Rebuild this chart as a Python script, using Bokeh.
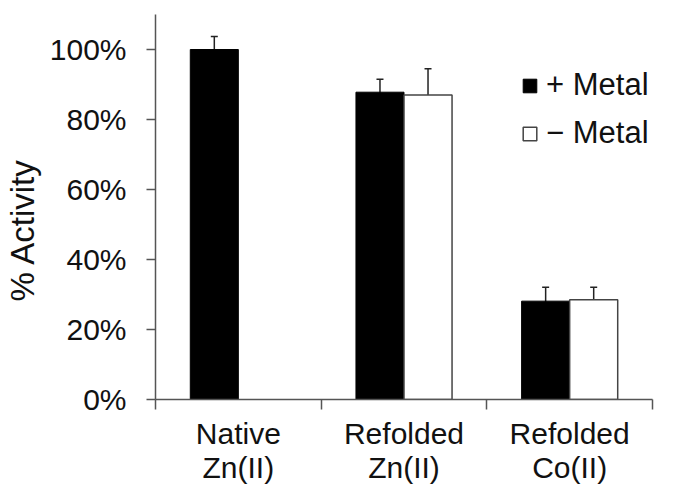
from bokeh.plotting import figure
from bokeh.models import (ColumnDataSource, FactorRange, Whisker, TeeHead, Legend, LegendItem,
                          NumeralTickFormatter, FixedTicker, Range1d, LinearAxis, CategoricalAxis)
from bokeh.transform import dodge
from bokeh.embed import file_html
from bokeh.resources import INLINE

categories = ["Native\nZn(II)", "Refolded\nZn(II)", "Refolded\nCo(II)"]

plus_cats = ["Native\nZn(II)", "Refolded\nZn(II)", "Refolded\nCo(II)"]
plus_vals = [1.00, 0.878, 0.281]
plus_err = [0.037, 0.037, 0.040]

minus_cats = ["Refolded\nZn(II)", "Refolded\nCo(II)"]
minus_vals = [0.870, 0.285]
minus_err = [0.075, 0.036]

y_ticks = [0, 0.2, 0.4, 0.6, 0.8, 1.0]
x_boundaries = [0, 1, 2, 3]

FONT = "Liberation Sans"
TXT = "#111111"
AX = "#555555"

plus_src = ColumnDataSource(dict(
    cat=plus_cats, val=plus_vals,
    upper=[v + e for v, e in zip(plus_vals, plus_err)],
    lower=[v - e for v, e in zip(plus_vals, plus_err)]))
minus_src = ColumnDataSource(dict(
    cat=minus_cats, val=minus_vals,
    upper=[v + e for v, e in zip(minus_vals, minus_err)],
    lower=[v - e for v, e in zip(minus_vals, minus_err)]))

p = figure(x_range=FactorRange(*categories, range_padding=0.0),
           y_range=Range1d(0, 1.10), x_axis_location=None,
           width=682, height=487, output_backend="svg", toolbar_location=None,
           min_border_left=153, min_border_right=30, min_border_top=14, min_border_bottom=86)
p.outline_line_color = None
p.xgrid.grid_line_color = None
p.ygrid.grid_line_color = None

off = 0.145
w = 0.29
r1 = p.vbar(x=dodge("cat", -off, range=p.x_range), top="val", width=w, source=plus_src,
            fill_color="black", line_color="black", line_width=1)
r2 = p.vbar(x=dodge("cat", off, range=p.x_range), top="val", width=w, source=minus_src,
            fill_color="white", line_color="#444444", line_width=1.5)

for src, o in ((plus_src, -off), (minus_src, off)):
    wk = Whisker(base=dodge("cat", o, range=p.x_range), upper="upper", lower="lower", source=src,
                 line_color="#222222", line_width=1.5,
                 upper_head=TeeHead(size=7, line_color="#222222", line_width=1.5),
                 lower_head=TeeHead(size=7, line_color="#222222", line_width=1.5))
    p.add_layout(wk)

# x axis: tick-only axis at category boundaries, then the label axis
tick_axis = LinearAxis(ticker=FixedTicker(ticks=x_boundaries))
tick_axis.axis_line_color = AX
tick_axis.axis_line_width = 1.5
tick_axis.major_tick_line_color = AX
tick_axis.major_tick_line_width = 1.5
tick_axis.major_tick_in = 0
tick_axis.major_tick_out = 10
tick_axis.minor_tick_line_color = None
tick_axis.major_label_overrides = {t: "" for t in x_boundaries}
tick_axis.major_label_standoff = 0
p.add_layout(tick_axis, "below")

cat_axis = CategoricalAxis()
cat_axis.axis_line_color = None
cat_axis.major_tick_line_color = None
cat_axis.minor_tick_line_color = None
cat_axis.major_tick_out = 0
cat_axis.major_tick_in = 0
cat_axis.major_label_standoff = 7
cat_axis.major_label_text_font = FONT
cat_axis.major_label_text_font_size = "30px"
cat_axis.major_label_text_color = TXT
cat_axis.major_label_text_line_height = 1.05
p.add_layout(cat_axis, "below")

# y axis
ya = p.yaxis[0]
ya.ticker = FixedTicker(ticks=y_ticks)
ya.formatter = NumeralTickFormatter(format="0%")
ya.axis_label = "% Activity" + "\u00a0" * 5
ya.axis_line_color = AX
ya.axis_line_width = 1.5
ya.major_tick_line_color = AX
ya.major_tick_line_width = 1.5
ya.minor_tick_line_color = None
ya.major_tick_in = 0
ya.major_tick_out = 9
ya.major_label_standoff = 20
ya.major_label_text_font = FONT
ya.major_label_text_font_size = "30px"
ya.major_label_text_color = TXT
ya.axis_label_text_font = FONT
ya.axis_label_text_font_size = "33px"
ya.axis_label_text_font_style = "normal"
ya.axis_label_text_color = TXT
ya.axis_label_standoff = 6

legend = Legend(items=[LegendItem(label="+ Metal", renderers=[r1]),
                       LegendItem(label="\u2212 Metal", renderers=[r2])],
                location=(366, 248))
legend.label_text_font = FONT
legend.label_text_font_size = "31px"
legend.label_text_color = TXT
legend.glyph_width = 17
legend.glyph_height = 17
legend.label_standoff = 8
legend.spacing = 12
legend.padding = 0
legend.margin = 0
legend.border_line_color = None
legend.background_fill_alpha = 0
p.add_layout(legend, "center")

open("out.html", "w").write(file_html(p, INLINE))
